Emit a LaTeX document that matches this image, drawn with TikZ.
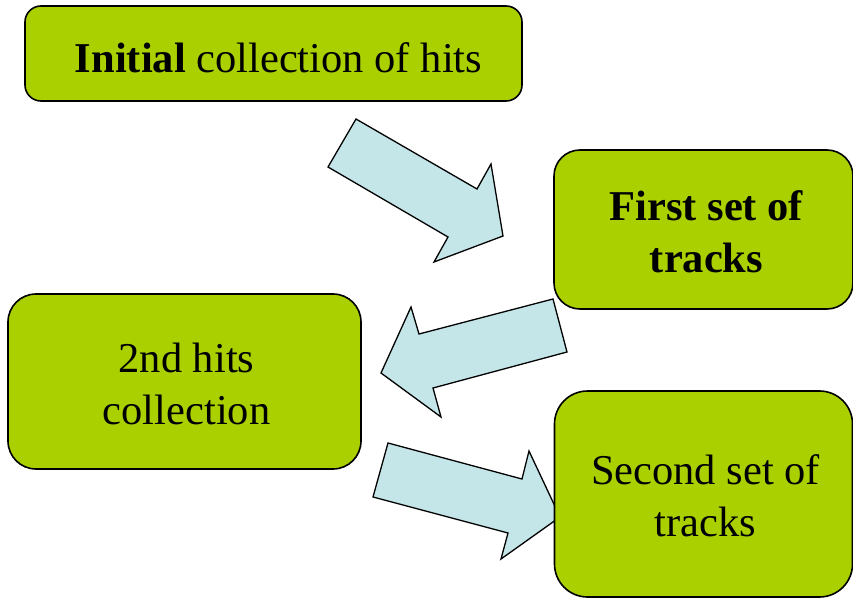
\documentclass[tikz,border=0pt]{standalone}
\usepackage{fontspec}
\setmainfont{Liberation Serif}
\definecolor{boxgreen}{RGB}{170,208,0}
\definecolor{arrowblue}{RGB}{197,230,233}
\begin{document}
\begin{tikzpicture}[x=1bp,y=-1bp,
  stepbox/.style={draw=black, line width=1.6bp, fill=boxgreen, inner sep=0pt},
  steptext/.style={align=center, inner sep=0pt,
    font=\fontsize{42.5bp}{52bp}\selectfont},
  blockarrow/.style={draw=black, line width=1.3bp, fill=arrowblue, line join=miter}]
\useasboundingbox (0,0) rectangle (853,598);

% block arrows (drawn first so the boxes sit on top)
\draw[blockarrow] (356,119) -- (477,189) -- (491,164) -- (503,236)
  -- (434,262) -- (448,237) -- (328,167) -- cycle;
\draw[blockarrow] (553,299) -- (419,334) -- (411,307) -- (381,373)
  -- (441,417) -- (433,388) -- (567,352) -- cycle;
\draw[blockarrow] (388,443) -- (522,479) -- (529,451) -- (560,517)
  -- (501,559) -- (508,533) -- (373,497) -- cycle;

% stages
\node[stepbox, minimum width=497bp, minimum height=95bp, rounded corners=16bp]
  (initial) at (273.5,53.5) {};
\node[stepbox, minimum width=299bp, minimum height=159bp, rounded corners=26bp]
  (first) at (703.5,229.5) {};
\node[stepbox, minimum width=353bp, minimum height=175bp, rounded corners=28bp]
  (hits2) at (184.5,381.5) {};
\node[stepbox, minimum width=298bp, minimum height=206bp, rounded corners=33bp]
  (second) at (703.5,494) {};

% stage captions
\node[steptext] (initialtext) at ([xshift=5bp,yshift=-4bp]initial.center)
  {\textbf{Initial} collection of hits};
\node[steptext] (firsttext) at ([xshift=3bp,yshift=-2bp]first.center)
  {\textbf{First set of}\\\textbf{tracks}};
\node[steptext] (hits2text) at ([xshift=2bp,yshift=-2bp]hits2.center)
  {2nd hits\\collection};
\node[steptext] (secondtext) at ([xshift=2bp,yshift=-2bp]second.center)
  {Second set of\\tracks};
\end{tikzpicture}
\end{document}
